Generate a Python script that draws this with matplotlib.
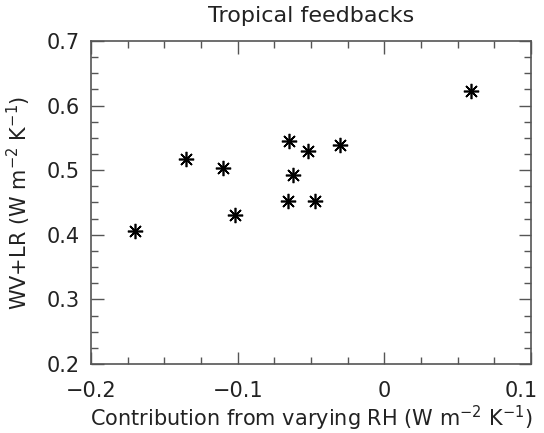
import matplotlib
matplotlib.use("Agg")
import matplotlib.pyplot as plt
import matplotlib.transforms as mtransforms
from matplotlib.ticker import MultipleLocator, FixedLocator, FuncFormatter

# contribution from varying RH vs WV+LR feedback (tropics)
rh_contrib = [-0.170, -0.135, -0.110, -0.102, -0.065, -0.052, -0.062, -0.066, -0.047, -0.030, 0.059]
wv_lr = [0.406, 0.517, 0.503, 0.430, 0.545, 0.530, 0.492, 0.453, 0.452, 0.539, 0.622]

xticks = [-0.2, -0.1, 0.0, 0.1]
xticklabels = ["\u22120.2", "\u22120.1", "0", "0.1"]
yticks = [0.2, 0.3, 0.4, 0.5, 0.6, 0.7]

plt.rcParams['font.family'] = ['DejaVu Sans']
plt.rcParams['mathtext.fontset'] = 'dejavusans'

fig = plt.figure(figsize=(5.44, 4.33), dpi=100)
ax = fig.add_axes([91 / 544, 1 - 364 / 433, 440 / 544, 323 / 433])

ax.plot(rh_contrib, wv_lr, linestyle='none', marker=(8, 2, 0), markersize=11,
        markeredgewidth=1.2, color='black')

ax.set_xlim(-0.2, 0.1)
ax.set_ylim(0.2, 0.7)
ax.xaxis.set_major_locator(FixedLocator(xticks))
ax.set_xticklabels(xticklabels)
ax.xaxis.set_minor_locator(MultipleLocator(0.025))
ax.yaxis.set_major_locator(FixedLocator(yticks))
ax.yaxis.set_major_formatter(FuncFormatter(lambda v, p: "%.1f" % v))
ax.yaxis.set_minor_locator(MultipleLocator(0.025))

ax.tick_params(which='both', direction='in', top=True, right=True, color='#555555',
               width=1.0, labelsize=15, labelcolor='#222222')
ax.tick_params(which='major', length=9)
ax.tick_params(axis='x', which='major', pad=12)
ax.tick_params(axis='y', which='major', pad=8)
ax.tick_params(which='minor', length=5)
for s in ax.spines.values():
    s.set_color('#555555')
    s.set_linewidth(1.2)

# keep the last x label inside the figure
last = ax.get_xticklabels()[-1]
last.set_transform(last.get_transform() + mtransforms.ScaledTranslation(-10 / 100, 0, fig.dpi_scale_trans))

ax.set_title("Tropical feedbacks", fontsize=16, color='#222222', pad=14)
ax.set_xlabel("Contribution from varying RH (W m$^{-2}$ K$^{-1}$)", fontsize=15, color='#222222', labelpad=2)
ax.set_ylabel("WV+LR (W m$^{-2}$ K$^{-1}$)", fontsize=15, color='#222222', labelpad=10)

fig.savefig("out.png", dpi=100)
